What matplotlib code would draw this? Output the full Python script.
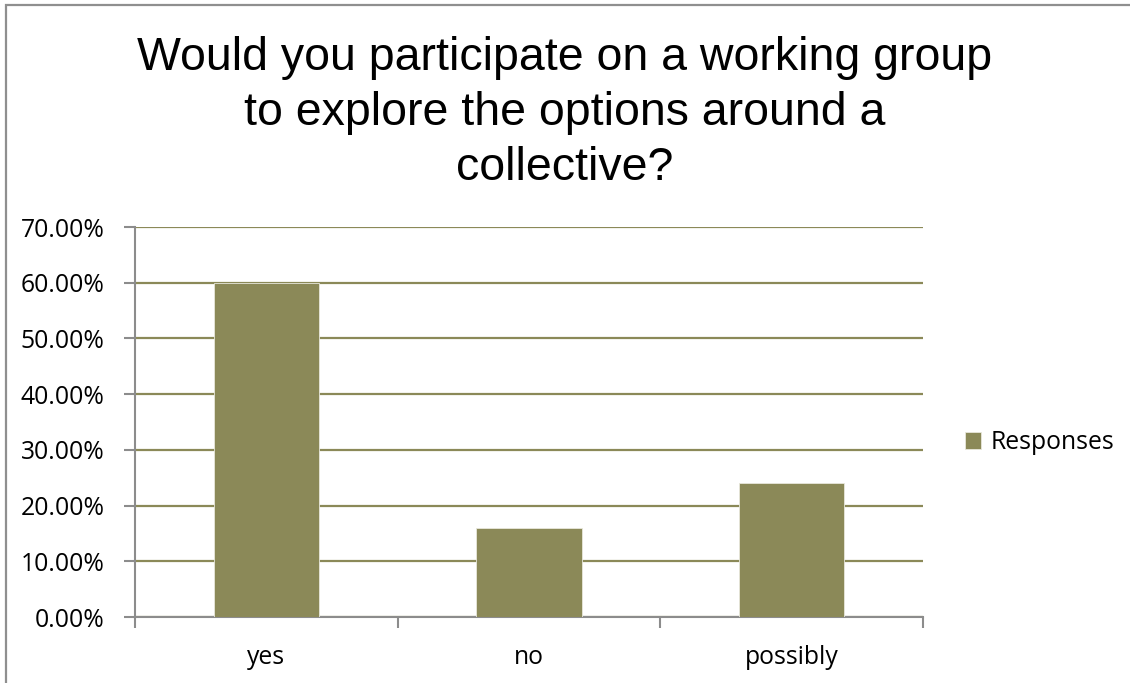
import matplotlib.pyplot as plt
from matplotlib.patches import Rectangle
from matplotlib.ticker import PercentFormatter

# survey answers, share of responses
answers = ['yes', 'no', 'possibly']
shares = [60.0, 16.0, 24.0]
series_name = 'Responses'
title = 'Would you participate on a working group\nto explore the options around a\ncollective?'

olive = '#8B8958'
axis_grey = '#8C8C8C'

plt.rcParams['font.family'] = ['Open Sans', 'DejaVu Sans']

fig = plt.figure(figsize=(11.3, 6.83), dpi=100)
ax = fig.add_axes([0.1195, 0.0966, 0.6973, 0.571])

# chart area border (only top and left fall inside the image)
fig.patches.append(Rectangle((6 / 1130, -0.1), 1.2, 1.1 - 5 / 683,
                             transform=fig.transFigure, fill=False,
                             edgecolor='#8F8F8F', linewidth=1.6))

x = range(len(answers))
ax.bar(x, shares, width=0.4, color=olive, edgecolor='#E8E8DC',
       linewidth=0.6, label=series_name, zorder=3)

ax.set_xlim(-0.5, len(answers) - 0.5)
ax.set_ylim(0, 70)
ax.set_yticks(range(0, 71, 10))
ax.yaxis.set_major_formatter(PercentFormatter(decimals=2))
ax.yaxis.grid(True, color=olive, linewidth=1.6, zorder=0)

ax.set_xticks([i - 0.5 for i in range(len(answers) + 1)])
ax.set_xticklabels([])
ax.set_xticks(list(x), minor=True)
ax.set_xticklabels(answers, minor=True)
ax.tick_params(axis='x', which='minor', length=0, pad=20, labelsize=17.8)
ax.tick_params(axis='x', which='major', length=8, width=1.5, color=axis_grey)
ax.tick_params(axis='y', length=8, width=1.5, color=axis_grey,
               labelsize=17.8, pad=14)

for side in ['top', 'right']:
    ax.spines[side].set_visible(False)
for side in ['left', 'bottom']:
    ax.spines[side].set_color(axis_grey)
    ax.spines[side].set_linewidth(1.5)

fig.text(0.5, 0.947, title, ha='center', va='top', fontsize=33.5,
         family='Liberation Sans', linespacing=1.32)

fig.legend(loc='center left', bbox_to_anchor=(0.843, 0.352), frameon=False,
           fontsize=17.8, handlelength=0.65, handleheight=0.65,
           handletextpad=0.4, borderpad=0)

fig.savefig('out.png', dpi=100)
